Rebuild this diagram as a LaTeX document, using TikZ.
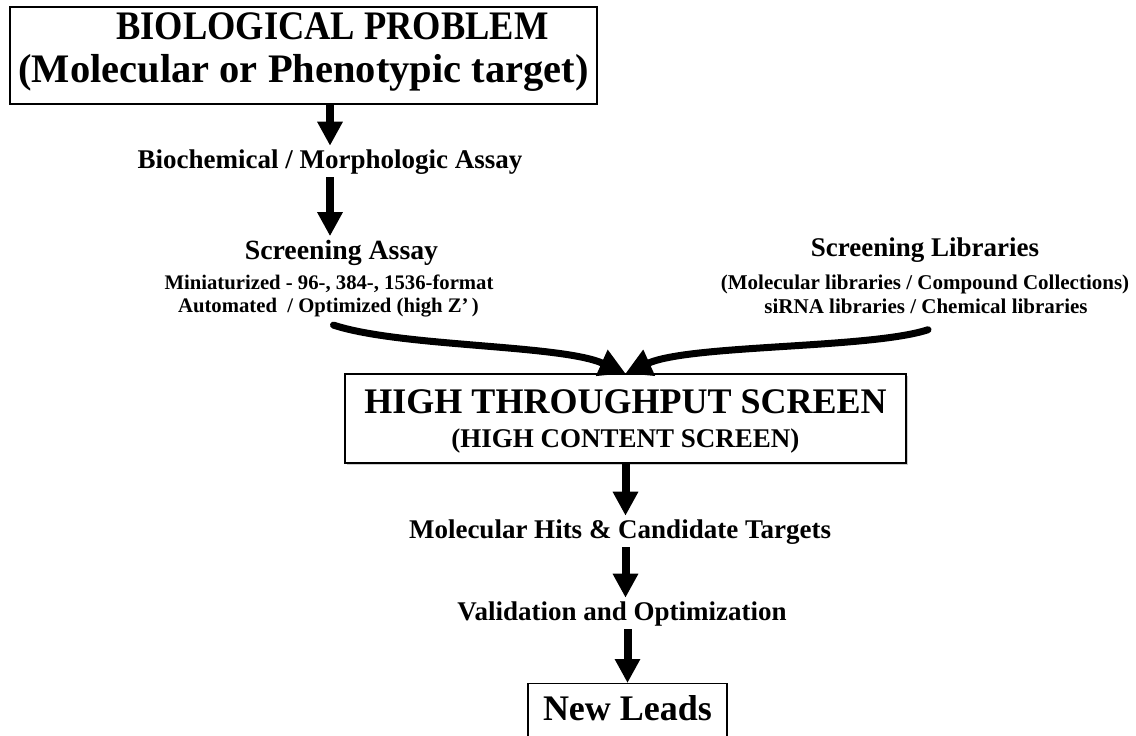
\documentclass[tikz,border=0pt]{standalone}
\usepackage{fontspec}
\setmainfont{Liberation Serif}
\newfontfamily\narrowserif{Liberation Serif}[FakeStretch=0.9]
\usetikzlibrary{arrows.meta,shadows}

\begin{document}
\begin{tikzpicture}[
  x=1pt,y=-1pt,
  box/.style={draw,line width=1.2pt,fill=white,align=center},
  hd/.style={font=\fontsize{36}{43}\selectfont\bfseries},
  md/.style={font=\fontsize{27}{32}\selectfont\bfseries},
  sm/.style={font=\fontsize{20.7}{23}\selectfont\bfseries},
  ar/.style={line width=8pt,-{Triangle[length=24pt,width=24pt]}},
  cv/.style={line width=7pt,line cap=round,-{Triangle[length=26pt,width=27pt]}}]

 \useasboundingbox (0,0) rectangle (1136,736);

 % ---- problem and assay ----
 \node[box,font=\fontsize{40.5}{43}\selectfont\bfseries,minimum width=587pt,minimum height=97pt] (prob) at (303.5,55.5)
   {\hspace*{58pt}{\narrowserif\bfseries BIOLOGICAL PROBLEM}\\(Molecular or Phenotypic target)\rule[-15pt]{0pt}{15pt}};
 \node[md,anchor=base] (bio) at (330,168) {Biochemical / Morphologic Assay};
 \draw[ar] (prob.south -| bio) -- (bio.north);

 \node[md,anchor=base,font=\fontsize{27.8}{32}\selectfont\bfseries] (sa) at (341.5,259) {Screening Assay};
 \node[sm,anchor=base] (mini) at (329,289) {Miniaturized - 96-, 384-, 1536-format};
 \node[sm,anchor=base] (auto) at (328.5,312) {Automated\ \ / Optimized (high Z’\,)};
 \draw[ar] (bio.south) -- (bio.south |- sa.north);

 % ---- libraries ----
 \node[md,anchor=base] (lib) at (925,256) {Screening Libraries};
 \node[sm,anchor=base,font=\fontsize{21}{23}\selectfont\bfseries] (mlib) at (925,289) {(Molecular libraries / Compound Collections)};
 \node[sm,anchor=base,font=\fontsize{21}{23}\selectfont\bfseries] (slib) at (926,313) {siRNA libraries / Chemical libraries};

 % ---- screen ----
 \node[box,font=\fontsize{36}{34}\selectfont\bfseries,minimum width=561pt,minimum height=89pt,
   drop shadow={shadow xshift=1.5pt,shadow yshift=-1.5pt,opacity=0.4}] (hts) at (625.5,418.5)
   {\rule{0pt}{30pt}HIGH THROUGHPUT SCREEN\\{\fontsize{27}{34}\selectfont (HIGH CONTENT SCREEN)}};
 \draw[cv] ([shift={(5pt,-5pt)}]auto.south) .. controls +(67,22) and +(-65,-29) .. (hts.north);
 \draw[cv] ([shift={(2pt,-13pt)}]slib.south) .. controls +(-58,19) and +(64.5,-29) .. (hts.north);

 % ---- follow-up ----
 \node[md,anchor=base] (hits) at (620,538) {Molecular Hits \& Candidate Targets};
 \node[md,anchor=base] (val) at (622,620) {Validation and Optimization};
 \node[box,hd,anchor=north,minimum width=199pt,inner sep=0pt,text height=37pt,text depth=30pt] (lead) at (627.5,683) {New Leads};
 \draw[ar] (hts.south) -- (hts.south |- hits.north);
 \draw[ar] (hits.south -| hts.south) -- (val.north -| hts.south);
 \draw[ar] (val.south -| lead) -- (lead.north);
\end{tikzpicture}
\end{document}
